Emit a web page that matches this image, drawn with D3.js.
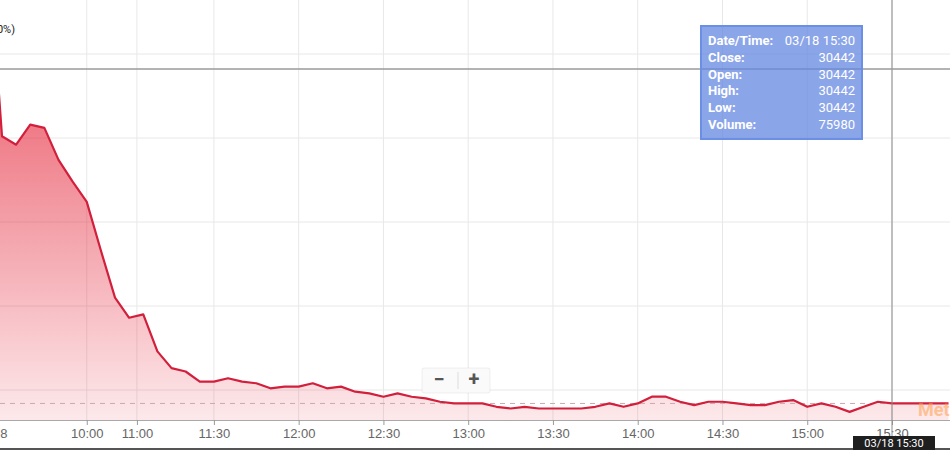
<!DOCTYPE html>
<html lang="en">
<head>
    <meta charset="UTF-8">
    <title>Intraday chart</title>
    <script src="https://d3js.org/d3.v7.min.js"></script>
    <style>
        body{
            margin: 0;
            background: #fff;
        }
        #canvas{
            display: block;
            font-family: Roboto, sans-serif;
        }
        .grid line{
            stroke: #e8e8e8;
            stroke-width: 1px;
        }
        .x_axis text{
            font-size: 13px;
            fill: #666;
        }
        .x_axis line{
            stroke: #999;
        }
        .tip_label{
            font-size: 13px;
            font-weight: bold;
            fill: #fff;
        }
        .tip_value{
            font-size: 13px;
            fill: #fff;
        }
    </style>
</head>
<body>
<svg id="canvas" width="950" height="450"></svg>
<script>
    // 5 minute bars, index -1 is the bar cut off at the left edge
    let closes = [30718,
        30601, 30596, 30608, 30606, 30587, 30574, 30562, 30533, 30505, 30493,
        30495, 30473, 30463, 30461, 30455, 30455, 30457, 30455, 30454, 30451,
        30452, 30452, 30454, 30451, 30452, 30449, 30448, 30446, 30448, 30446,
        30445, 30443, 30442, 30442, 30442, 30440, 30439, 30440, 30439, 30439,
        30439, 30439, 30440, 30442, 30440, 30442, 30446, 30446, 30443, 30441,
        30443, 30443, 30442, 30441, 30441, 30443, 30444, 30440, 30442, 30440,
        30437, 30440, 30443, 30442, 30442, 30442, 30442, 30442]
    let firstIndex = -1
    let tickLabels = ["03/18", "10:00", "11:00", "11:30", "12:00", "12:30", "13:00", "13:30", "14:00", "14:30", "15:00", "15:30"]
    let tickIndex = [-0.8, 6, 9.55, 15, 21, 27, 33, 39, 45, 51, 57, 63]
    let priceGrid = [30450, 30500, 30550, 30600, 30650]
    let tipLabels = ["Date/Time:", "Close:", "Open:", "High:", "Low:", "Volume:"]
    let tipValues = ["03/18 15:30", "30442", "30442", "30442", "30442", "75980"]
    let cursorIndex = 63
    let cursorPrice = 30641

    let width = 950
    let height = 450
    let axisY = 420
    let svg = d3.select('#canvas')

    let data = closes.map(function (d, i) { return {i: i + firstIndex, v: d} })

    let xScale = d3.scaleLinear().domain([0, 63]).range([2, 892])
    let yScale = d3.scaleLinear().domain([30450, 30650]).range([390, 54])

    // grid
    let grid = svg.append('g').attr('class', 'grid')
    grid.selectAll('line.h')
        .data(priceGrid)
        .enter().append('line')
        .attr('class', 'h')
        .attr('x1', 0).attr('x2', width)
        .attr('y1', d => yScale(d)).attr('y2', d => yScale(d))
    grid.selectAll('line.v')
        .data(tickIndex.slice(1))
        .enter().append('line')
        .attr('class', 'v')
        .attr('x1', d => xScale(d)).attr('x2', d => xScale(d))
        .attr('y1', 0).attr('y2', axisY)

    // area + line
    let defs = svg.append('defs')
    let grad = defs.append('linearGradient')
        .attr('id', 'areaFill')
        .attr('gradientUnits', 'userSpaceOnUse')
        .attr('x1', 0).attr('x2', 0).attr('y1', 0).attr('y2', axisY)
    grad.append('stop').attr('offset', 0).attr('stop-color', 'rgb(228,32,52)').attr('stop-opacity', 0.8)
    grad.append('stop').attr('offset', 1).attr('stop-color', 'rgb(228,32,52)').attr('stop-opacity', 0.1)

    let area = d3.area()
        .x(d => xScale(d.i))
        .y0(axisY)
        .y1(d => yScale(d.v))
    let line = d3.line()
        .x(d => xScale(d.i))
        .y(d => yScale(d.v))

    svg.append('path').datum(data).attr('d', area).attr('fill', 'url(#areaFill)')

    // last price dashed line
    let last = closes[closes.length - 1]
    svg.append('line')
        .attr('x1', 0).attr('x2', width)
        .attr('y1', yScale(last)).attr('y2', yScale(last))
        .attr('stroke', '#c9a9ad').attr('stroke-width', 1)
        .attr('stroke-dasharray', '5,5')

    svg.append('path').datum(data).attr('d', line)
        .attr('fill', 'none')
        .attr('stroke', '#d21f3c')
        .attr('stroke-width', 2.2)
        .attr('stroke-linejoin', 'round')

    // x axis
    svg.append('line')
        .attr('x1', 0).attr('x2', width).attr('y1', axisY + 0.5).attr('y2', axisY + 0.5)
        .attr('stroke', '#a8a8a8')
    let xAxis = d3.axisBottom(xScale)
        .tickValues(tickIndex)
        .tickSize(5)
        .tickPadding(4)
        .tickFormat((d, i) => tickLabels[i])
    let axisG = svg.append('g').attr('class', 'x_axis')
        .attr('transform', `translate(0,${axisY})`)
        .call(xAxis)
    axisG.select('.domain').remove()
    axisG.selectAll('.tick').filter((d, i) => i === 0).select('line').remove()
    svg.append('line')
        .attr('x1', 0).attr('x2', width).attr('y1', height - 1).attr('y2', height - 1)
        .attr('stroke', '#555').attr('stroke-width', 2)

    // change label cut off at the top left
    svg.append('text')
        .attr('x', 15).attr('y', 33)
        .attr('text-anchor', 'end')
        .style('font-size', '11px').style('fill', '#222')
        .text('+0 (0.00%)')

    // watermark on the right
    svg.append('text')
        .attr('x', 918).attr('y', 416)
        .style('font-size', '18px').style('font-weight', 'bold')
        .style('fill', 'rgba(255,160,70,0.55)')
        .text('Met')

    // zoom control
    let zc = svg.append('g').attr('transform', 'translate(422,368)')
    zc.append('rect').attr('width', 68).attr('height', 25).attr('rx', 2)
        .attr('fill', 'rgba(250,250,250,0.95)')
        .attr('stroke', 'rgba(0,0,0,0.06)')
    zc.append('line').attr('x1', 36).attr('x2', 36).attr('y1', 4).attr('y2', 21)
        .attr('stroke', '#ddd')
    zc.append('text').attr('x', 17).attr('y', 18).attr('text-anchor', 'middle')
        .style('font-size', '20px').style('font-weight', 'bold').style('fill', '#555').text('\u2212')
    zc.append('text').attr('x', 52).attr('y', 18).attr('text-anchor', 'middle')
        .style('font-size', '20px').style('font-weight', 'bold').style('fill', '#555').text('+')

    // crosshair
    let cx = xScale(cursorIndex)
    let cy = yScale(cursorPrice)
    svg.append('line').attr('x1', cx).attr('x2', cx).attr('y1', 0).attr('y2', height)
        .attr('stroke', '#8a8a8a').attr('stroke-width', 1)
    svg.append('line').attr('x1', 0).attr('x2', width).attr('y1', cy).attr('y2', cy)
        .attr('stroke', '#9a9a9a').attr('stroke-width', 1.5)

    // time label on axis
    let tl = svg.append('g').attr('transform', `translate(${cx},0)`)
    tl.append('rect').attr('x', -39).attr('y', 436).attr('width', 82).attr('height', 16).attr('fill', '#1f1f1f')
    tl.append('text').attr('x', 2).attr('y', 447).attr('text-anchor', 'middle')
        .style('font-size', '11px').style('fill', '#fff').text(tipValues[0])

    // tooltip
    let tip = svg.append('g').attr('transform', 'translate(700,25)')
    tip.append('rect').attr('x', 1).attr('y', 1).attr('width', 161).attr('height', 113)
        .attr('fill', 'rgba(100,135,225,0.75)')
        .attr('stroke', '#6a8fe4').attr('stroke-width', 2)
    tip.selectAll('text.tip_label')
        .data(tipLabels)
        .enter().append('text')
        .attr('class', 'tip_label')
        .attr('x', 8)
        .attr('y', (d, i) => 20 + i * 16.8)
        .text(d => d)
    tip.selectAll('text.tip_value')
        .data(tipValues)
        .enter().append('text')
        .attr('class', 'tip_value')
        .attr('x', 155)
        .attr('y', (d, i) => 20 + i * 16.8)
        .attr('text-anchor', 'end')
        .text(d => d)
</script>
</body>
</html>
